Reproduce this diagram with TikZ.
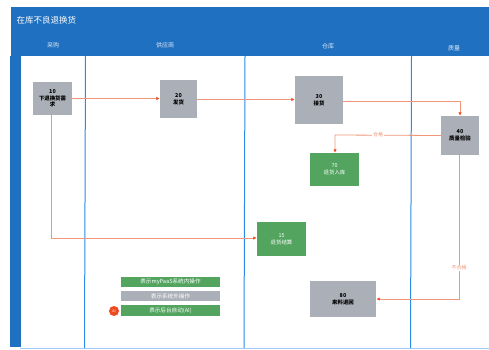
\documentclass[tikz,border=0pt]{standalone}
\usepackage{fontspec}
\setmainfont{Noto Sans CJK SC}
\usetikzlibrary{arrows.meta}
\definecolor{laneblue}{HTML}{1F70C0}
\definecolor{lanerule}{HTML}{2A8CE6}
\definecolor{boxgray}{HTML}{ABB0B8}
\definecolor{boxgreen}{HTML}{52A45F}
\definecolor{flow}{HTML}{F0967A}
\definecolor{tipred}{HTML}{EE4B22}
\tikzset{
  x=1pt,y=-1pt,
  graybox/.style={draw=none,fill=boxgray,align=center,font=\fontsize{5.4}{6.6}\selectfont\bfseries,text=black,inner sep=0pt},
  greenbox/.style={draw=none,fill=boxgreen,align=center,font=\fontsize{5.4}{6.6}\selectfont,text=white,inner sep=0pt},
  legendbox/.style={draw=none,align=center,font=\fontsize{5.6}{6}\selectfont,text=white,inner sep=0pt,minimum width=99pt},
  flowline/.style={draw=flow,line width=0.8pt,-{Latex[length=3.5pt,width=3.5pt,color=tipred]}},
  lanehead/.style={text=white!85!laneblue,font=\fontsize{6}{7}\selectfont},
  flowlabel/.style={fill=white,inner sep=0.6pt,text=flow,font=\fontsize{5}{6}\selectfont},
  laneline/.style={draw=lanerule,line width=1pt}
}
\begin{document}
\begin{tikzpicture}
\useasboundingbox (0,0) rectangle (489,350);
\fill[white] (0,0) rectangle (489,350);
% frame
\fill[laneblue] (11,7) rectangle (489,56);
\fill[laneblue] (10,56) rectangle (20.5,347);
\draw[lanerule!45,line width=0.5pt] (20,348) -- (489,348);
\node[anchor=west,text=white,font=\fontsize{8.5}{10}\selectfont] (title) at (13,20) {在库不良退换货};
\node[lanehead] (l1) at (53,45) {采购};
\node[lanehead] (l2) at (165,45) {供应商};
\node[lanehead] (l3) at (328,46) {仓库};
\node[lanehead] (l4) at (454,48) {质量};
\coordinate (t1) at (85.5,56); \coordinate (b1) at (84.5,348);
\coordinate (t2) at (245,56); \coordinate (b2) at (244,348);
\coordinate (t3) at (411.5,56); \coordinate (b3) at (410.5,348);
\draw[laneline] (t1)--(b1);
\draw[laneline] (t2)--(b2);
\draw[laneline] (t3)--(b3);
% boxes
\node[graybox,minimum width=39pt,minimum height=33pt] (n10) at (52.5,98.5) {10\\下退换货需\\求};
\node[graybox,minimum width=37pt,minimum height=38pt] (n20) at (178.5,99) {20\\发货};
\node[graybox,minimum width=48pt,minimum height=48pt] (n30) at (319,100) {30\\接货};
\node[graybox,minimum width=38pt,minimum height=39pt] (n40) at (460,135.5) {40\\质量检验};
\node[greenbox,minimum width=49pt,minimum height=33pt] (n70) at (334.5,169.5) {70\\退货入库};
\node[greenbox,minimum width=49pt,minimum height=34pt] (n15) at (281.5,239) {15\\退货结算};
\node[graybox,minimum width=66pt,minimum height=36pt] (n80) at (343,299) {80\\来料退回};
% legend
\node[legendbox,fill=boxgreen,minimum height=10pt] (lg1) at (170.5,282) {表示myPaaS系统内操作};
\node[legendbox,fill=boxgray,minimum height=10pt] (lg2) at (170.5,296) {表示系统外操作};
\node[legendbox,fill=boxgreen,minimum height=11pt] (lg3) at (170.5,310.5) {表示后台自动(AI)};
\node[circle,fill=tipred,inner sep=0pt,minimum size=10pt,text=white,font=\fontsize{3.5}{4}\selectfont] (badge) at (114,311) {AI};
% connectors
\coordinate (c1) at (460,101);
\coordinate (c2) at (335,135);
\coordinate (c3) at (459,299);
\coordinate (c4) at (51,238);
\draw[flowline] (n10.east |- 0,98.5) -- (n20.west |- 0,98.5);
\draw[flowline] (n20.east |- 0,99.5) -- (n30.west |- 0,99.5);
\draw[flowline] (n30.east |- c1) -- (c1) -- (n40.north);
\draw[flowline] (n40.west) -- (c2) -- (n70.north -| c2);
\draw[flowline] (n40.south -| c3) -- (c3) -- (n80.east);
\draw[flowline] (n10.south -| c4) -- (c4) -- (n15.west |- c4);
\node[flowlabel] (lab1) at (378,134.5) {合格};
\node[flowlabel] (lab2) at (459,268) {不合格};
\end{tikzpicture}
\end{document}
